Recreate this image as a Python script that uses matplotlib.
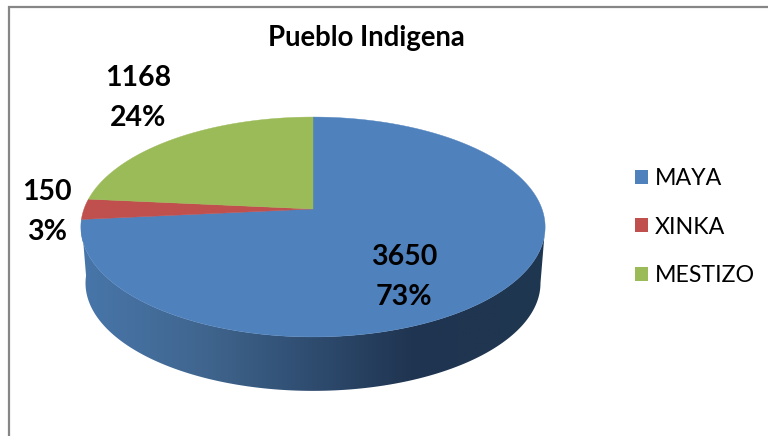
import numpy as np
import matplotlib
matplotlib.use("Agg")
import matplotlib.pyplot as plt
from matplotlib.patches import Patch, Polygon, Rectangle
from matplotlib.colors import LinearSegmentedColormap

plt.rcParams['font.family'] = ['Lato', 'DejaVu Sans']

title = "Pueblo Indigena"
categories = ["MAYA", "XINKA", "MESTIZO"]
values = [3650, 150, 1168]
colors = ["#4f81bd", "#c0504d", "#9bbb59"]
label_positions = [(404, 277), (47, 212), (138, 98)]

CX, CY, A, C, K = 313, 209, 229.0, 107.0, 0.1636
DROP, SHRINK = 56.5, 0.98


def rim(theta_deg, scale=1.0, drop=0.0):
    t = np.radians(theta_deg)
    x, y = np.sin(t), np.cos(t)
    d = 1 + K * y
    return np.column_stack((CX + scale * A * x / d, CY + drop - scale * C * y / d))


fig = plt.figure(figsize=(7.68, 4.36), dpi=100)
ax = fig.add_axes([0, 0, 1, 1])
ax.axis("off")

ax.add_patch(Rectangle((8.5, 7.5), 800, 500, fc="white", ec="#868686", lw=1.6))

total = sum(values)
edges = np.concatenate(([0], np.cumsum(values))) / total * 360

# side wall of the first slice, shaded left to right
ts = np.linspace(99.4, edges[1], 240)
side = np.vstack((rim(ts), rim(ts[::-1], SHRINK, DROP)))
cmap = LinearSegmentedColormap.from_list(
    "side", [(0, "#4876aa"), (0.26, "#40668f"), (0.48, "#304e72"),
             (0.72, "#1f3450"), (1, "#203750")])
grad = np.linspace(0, 1, 256).reshape(1, -1)
im = ax.imshow(grad, extent=(81, 545, 400, 200), cmap=cmap, aspect="auto", zorder=2)
poly = Polygon(side, closed=True, fc="none", ec="none", transform=ax.transData)
ax.add_patch(poly)
im.set_clip_path(poly)

# top faces
for start, end, col in zip(edges[:-1], edges[1:], colors):
    arc = rim(np.linspace(start, end, 200))
    pts = np.vstack(([[CX, CY]], arc))
    ax.add_patch(Polygon(pts, closed=True, fc=col, ec=col, lw=0.3, zorder=3))

# data labels
for v, (lx, ly) in zip(values, label_positions):
    ax.text(lx, ly, f"{v}\n{round(v / total * 100)}%", ha="center", va="center",
            fontsize=20.5, fontweight="bold", color="black", linespacing=1.62, zorder=5)

ax.text(366, 38, title, ha="center", va="center", fontsize=19.8,
        fontweight="bold", color="black", zorder=5)

handles = [Patch(fc=c, ec="none", label=n) for c, n in zip(colors, categories)]
ax.legend(handles=handles, loc="center left", bbox_to_anchor=(635 / 768, 1 - 227 / 436),
          frameon=False, fontsize=16.7, handlelength=0.56, handleheight=0.56,
          handletextpad=0.3, labelspacing=1.18, borderpad=0, borderaxespad=0)

ax.set_xlim(0, 768)
ax.set_ylim(436, 0)
fig.savefig("out.png", dpi=100)
